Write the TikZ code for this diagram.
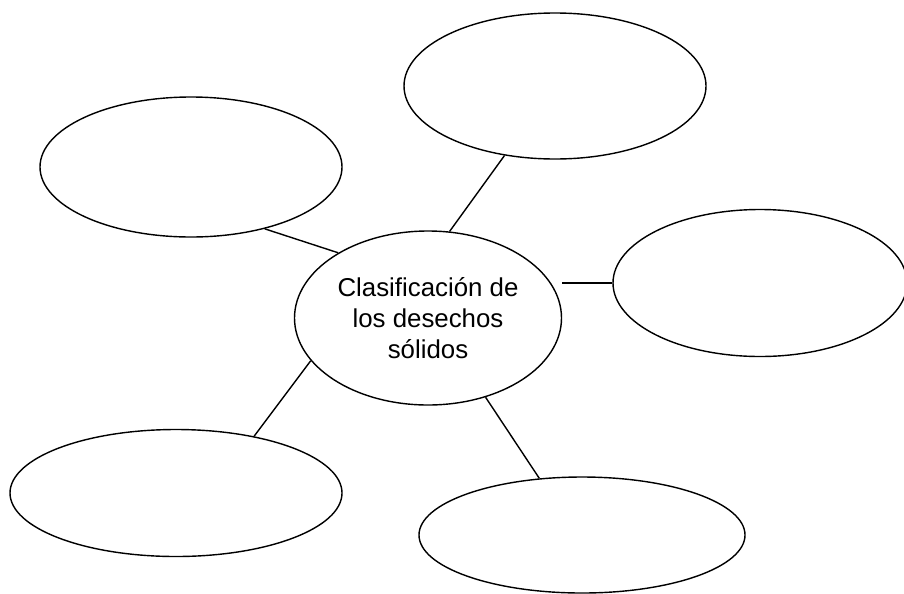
\documentclass[tikz,border=0pt]{standalone}
\usepackage{fontspec}
\setmainfont{Liberation Sans}
\usetikzlibrary{positioning, calc, shapes}

\begin{document}
\begin{tikzpicture}
			[
			Blase/.style={draw, ellipse, thick, inner sep=0pt},					%leere Ellipsen
			Mitte/.style={Blase, align=center, font=\fontsize{14.7}{17.6}\selectfont},	%zentrale Ellipse mit Text
			Verbindung/.style={thick}											%Verbindungslinien
			]
			
			% Rahmen wie im Original
			\useasboundingbox (0,0) rectangle (18.08,-11.86);
			
			%%%%%%%%%%%%%%%%%%%%%%%%%% Ellipsen %%%%%%%%%%%%%%%%%%%%%%%%%%%%%%%
			\node[Mitte, minimum width=5.34cm, minimum height=3.48cm] (Zentrum) at (8.56,-6.36) {Clasificación de\\los desechos\\sólidos};
			\node[Blase, minimum width=6.04cm, minimum height=2.80cm] (ObenLinks)  at (3.82,-3.34) {};
			\node[Blase, minimum width=6.04cm, minimum height=2.92cm] (Oben)       at (11.10,-1.72) {};
			\node[Blase, minimum width=5.88cm, minimum height=2.94cm] (Rechts)     at (15.20,-5.66) {};
			\node[Blase, minimum width=6.64cm, minimum height=2.54cm] (UntenLinks) at (3.52,-9.86) {};
			\node[Blase, minimum width=6.52cm, minimum height=2.32cm] (UntenRechts) at (11.64,-10.70) {};
			
			% Verbindungen zur Mitte
			\draw[Verbindung] (ObenLinks.-40) -- (Zentrum.144);
			\draw[Verbindung] (Oben.-126) -- (Zentrum.76);
			\draw[Verbindung] (Rechts.west) -- (Rechts.west -| Zentrum.east);
			\draw[Verbindung] (UntenLinks.36) -- (Zentrum.-160);
			\draw[Verbindung] (UntenRechts.127) -- (Zentrum.-54);
		\end{tikzpicture}
\end{document}
